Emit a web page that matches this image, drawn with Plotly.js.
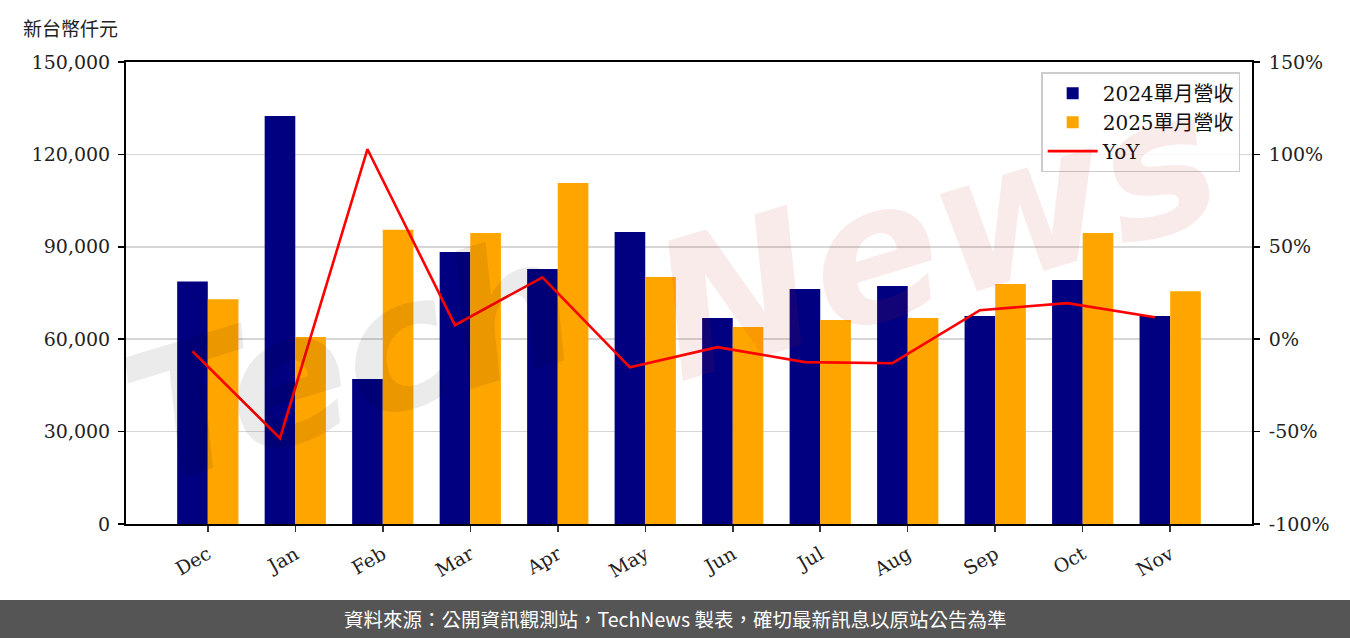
<!DOCTYPE html>
<html>
<head>
<meta charset="utf-8">
<script src="https://cdn.plot.ly/plotly-3.0.1.min.js"></script>
<style>html,body{margin:0;padding:0;background:#fff;}#chart{width:1350px;height:638px;}</style>
</head>
<body>
<div id="chart"></div>
<script>
const months = ["Dec","Jan","Feb","Mar","Apr","May","Jun","Jul","Aug","Sep","Oct","Nov"];
const rev2024 = [78700, 132500, 47100, 88300, 82800, 94800, 66900, 76300, 77300, 67500, 79200, 67500];
const rev2025 = [73000, 60700, 95500, 94500, 110700, 80200, 64000, 66200, 66900, 77900, 94500, 75600];
const yoy = [-6.5, -53.6, 102.8, 7.6, 33.5, -15.2, -4.3, -12.4, -13.0, 15.7, 19.5, 11.9];
const leftTicks = [0, 30000, 60000, 90000, 120000, 150000];
const rightTicks = [-100, -50, 0, 50, 100, 150];

const idx = months.map((_, i) => i);
const serif = "'DejaVu Serif', 'Noto Sans CJK TC', serif";

const traces = [
  {type:'bar', name:'2024單月營收', x: idx, y: rev2024, offset:-0.35, width:0.35,
   marker:{color:'#000080'}, yaxis:'y', hoverinfo:'skip'},
  {type:'bar', name:'2025單月營收', x: idx, y: rev2025, offset:0, width:0.35,
   marker:{color:'#FFA500'}, yaxis:'y', hoverinfo:'skip'},
  {type:'scatter', mode:'lines', name:'YoY', x: idx.map(i => i - 0.175), y: yoy,
   line:{color:'#FF0000', width:2.6}, yaxis:'y2', hoverinfo:'skip'}
];

const layout = {
  width:1350, height:638,
  margin:{l:126, r:98, t:62, b:114, pad:0},
  paper_bgcolor:'#ffffff', plot_bgcolor:'#ffffff',
  barmode:'overlay',
  showlegend:true,
  legend:{x:0.9895, xanchor:'right', y:0.978, yanchor:'top',
    bordercolor:'#cccccc', borderwidth:1.5, bgcolor:'rgba(255,255,255,0.8)',
    font:{family:serif, size:20, color:'#111'}, traceorder:'normal', itemwidth:50},
  xaxis:{range:[-0.935, 11.935], tickvals: idx, ticktext: months, tickangle:-30,
    showgrid:false, zeroline:false, showline:true, linecolor:'#000', linewidth:2, mirror:true,
    ticks:'outside', ticklen:6, tickwidth:1.5, tickcolor:'#333', ticklabelstandoff:4,
    tickfont:{family:serif, size:19, color:'#222'}},
  yaxis:{range:[0,150000], tickvals: leftTicks, ticktext: leftTicks.map(v => v.toLocaleString('en-US')),
    showgrid:true, gridcolor:'#d6d6d6', gridwidth:1.5, zeroline:false,
    showline:true, linecolor:'#000', linewidth:2,
    ticks:'outside', ticklen:6, tickwidth:1.5, tickcolor:'#000', ticklabelstandoff:4,
    tickfont:{family:serif, size:19, color:'#222'}},
  yaxis2:{range:[-100,150], overlaying:'y', side:'right', tickvals: rightTicks,
    ticktext: rightTicks.map(v => v + '%'),
    showgrid:false, zeroline:false, showline:true, linecolor:'#000', linewidth:2,
    ticks:'outside', ticklen:6, tickwidth:1.5, tickcolor:'#000', ticklabelstandoff:5,
    tickfont:{family:serif, size:19, color:'#222'}},
  shapes:[
    {type:'rect', xref:'paper', yref:'paper', x0:-0.12, x1:1.1, y0:-0.25, y1:-0.1645,
     fillcolor:'#555555', line:{width:0}, layer:'above'}
  ],
  annotations:[
    {text:'新台幣仟元', xref:'paper', yref:'paper', x:-0.0497, y:1.0736, xanchor:'center', yanchor:'middle',
     showarrow:false, font:{family:"'Noto Sans CJK TC', sans-serif", size:19, color:'#222'}},
    {text:'資料來源：公開資訊觀測站，TechNews 製表，確切最新訊息以原站公告為準', xref:'paper', yref:'paper',
     x:(675-126)/1126, y:-0.2056, xanchor:'center', yanchor:'middle', showarrow:false,
     font:{family:"'Noto Sans CJK TC', sans-serif", size:19.5, color:'#ffffff'}},
    {text:'<i><b>Tech</b></i>', xref:'paper', yref:'paper', x:(350-126)/1126, y:(524-360)/462, xanchor:'center', yanchor:'middle',
     showarrow:false, textangle:-17, font:{family:"'DejaVu Sans', sans-serif", size:180, color:'rgba(0,0,0,0.08)'}},
    {text:'<i><b>News</b></i>', xref:'paper', yref:'paper', x:(935-126)/1126, y:(524-235)/462, xanchor:'center', yanchor:'middle',
     showarrow:false, textangle:-17, font:{family:"'DejaVu Sans', sans-serif", size:190, color:'rgba(200,30,30,0.09)'}}
  ]
};

Plotly.newPlot('chart', traces, layout, {displayModeBar:false, staticPlot:true});
</script>
</body>
</html>
